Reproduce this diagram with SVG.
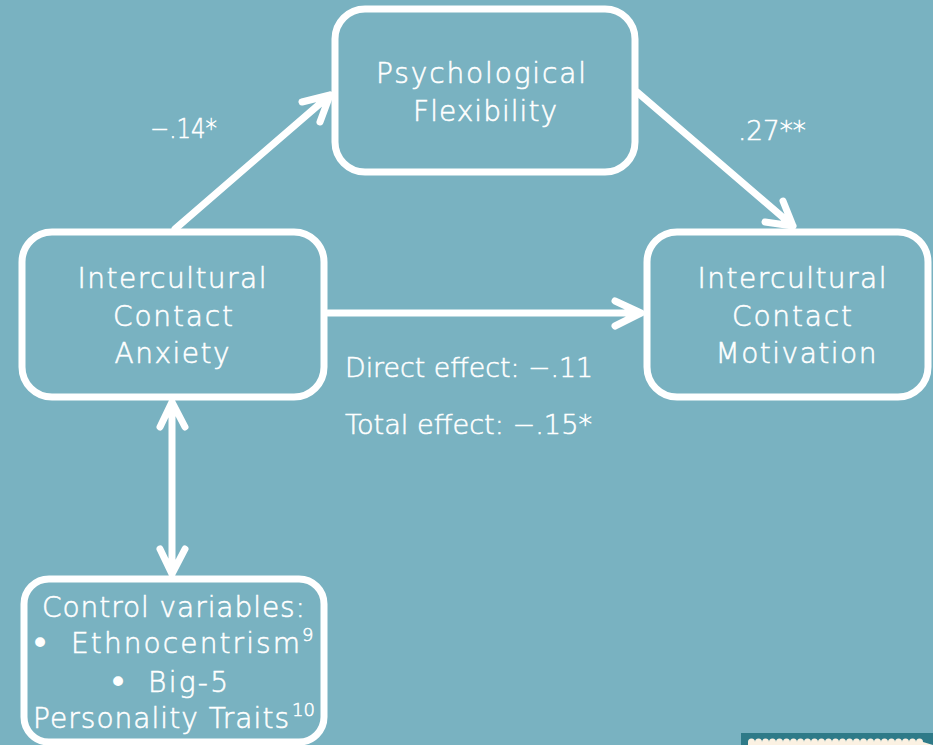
<svg xmlns="http://www.w3.org/2000/svg" width="933" height="745" viewBox="0 0 933 745">
<style>
.box{fill:none;stroke:#fff;stroke-width:7}
.t,.l,.s,.b{fill:#fff;stroke:#fff;stroke-width:0.55;font-family:"DejaVu Sans","Noto Sans",sans-serif;font-weight:300}
.t{font-size:28px;text-anchor:middle}
.l{font-size:28px}
.m{font-size:27px}
.s{font-size:18px}
.b{font-size:34px;font-weight:400;stroke-width:0}
.c{fill:none;stroke:#fff;stroke-width:7;stroke-linecap:round;stroke-linejoin:round}
</style>
<rect width="933" height="745" fill="#79B2C1"/>
<g id="connectors">
<path class="c" d="M175,229 L330,95 M302,102 L330,95 L320,122"/>
<path class="c" d="M637,92 L793,226 M765,222 L793,226 L783,201"/>
<path class="c" d="M328,313 L641,313 M615,301 L641,313 L615,326"/>
<path class="c" d="M172,402 L172,574 M160,427 L172,402 L185,427 M160,549 L172,574 L185,549"/>
</g>
<g id="psych">
<rect class="box" x="335" y="9" width="300" height="163" rx="30"/>
<text class="t" x="481" y="83" textLength="210">Psychological</text>
<text class="t" x="485" y="121" textLength="144">Flexibility</text>
</g>
<g id="anxiety">
<rect class="box" x="22" y="232" width="302" height="165" rx="30"/>
<text class="t" x="172" y="288" textLength="189">Intercultural</text>
<text class="t" x="173" y="326" textLength="120">Contact</text>
<text class="t" x="172" y="363" textLength="115">Anxiety</text>
</g>
<g id="motivation">
<rect class="box" x="647" y="232" width="281" height="165" rx="30"/>
<text class="t" x="792" y="288" textLength="189">Intercultural</text>
<text class="t" x="792" y="326" textLength="120">Contact</text>
<text class="t" x="796" y="363" textLength="161">Motivation</text>
</g>
<g id="control">
<rect class="box" x="24" y="579" width="300" height="163" rx="25"/>
<text class="l" x="42" y="617" textLength="263">Control variables:</text>
<text class="b" x="30" y="655">•</text>
<text class="l" x="71" y="653" textLength="229">Ethnocentrism</text>
<text class="s" x="302" y="641">9</text>
<text class="b" x="108" y="694">•</text>
<text class="l" x="148" y="692" textLength="80">Big-5</text>
<text class="l" x="33" y="728" textLength="256">Personality Traits</text>
<text class="s" x="292" y="716">10</text>
</g>
<g id="labels">
<text class="l m" x="150" y="138" textLength="67" lengthAdjust="spacingAndGlyphs">−.14*</text>
<text class="l m" x="738" y="140" textLength="68" lengthAdjust="spacingAndGlyphs">.27**</text>
<text class="l m" x="345" y="377" textLength="248" lengthAdjust="spacingAndGlyphs">Direct effect: −.11</text>
<text class="l m" x="345" y="434" textLength="247" lengthAdjust="spacingAndGlyphs">Total effect: −.15*</text>
</g>
<g id="corner">
<rect x="741" y="733" width="192" height="12" fill="#2E7A88"/>
<path d="M748,745 L748,742 a3.5,3.5 0 0 1 7,0 a3.5,3.5 0 0 1 7,0 a3.5,3.5 0 0 1 7,0 a3.5,3.5 0 0 1 7,0 a3.5,3.5 0 0 1 7,0 a3.5,3.5 0 0 1 7,0 a3.5,3.5 0 0 1 7,0 a3.5,3.5 0 0 1 7,0 a3.5,3.5 0 0 1 7,0 a3.5,3.5 0 0 1 7,0 a3.5,3.5 0 0 1 7,0 a3.5,3.5 0 0 1 7,0 a3.5,3.5 0 0 1 7,0 a3.5,3.5 0 0 1 7,0 a3.5,3.5 0 0 1 7,0 a3.5,3.5 0 0 1 7,0 a3.5,3.5 0 0 1 7,0 a3.5,3.5 0 0 1 7,0 a3.5,3.5 0 0 1 7,0 a3.5,3.5 0 0 1 7,0 a3.5,3.5 0 0 1 7,0 a3.5,3.5 0 0 1 7,0 a3.5,3.5 0 0 1 7,0 a3.5,3.5 0 0 1 7,0 a3.5,3.5 0 0 1 7,0 L933,745 Z" fill="#FBF1E2"/>
</g>
</svg>
